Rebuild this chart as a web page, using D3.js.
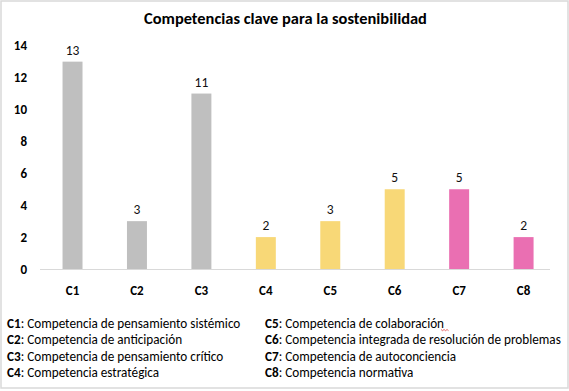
<!DOCTYPE html>
<html>
<head>
<meta charset="utf-8">
<script src="https://cdn.jsdelivr.net/npm/d3@7"></script>
<style>
  html, body { margin: 0; padding: 0; background: #fff; }
  svg { display: block; }
  text { font-family: Carlito, Calibri, Lato, "Open Sans", sans-serif; }
</style>
</head>
<body>
<svg id="chart" width="569" height="391"></svg>
<script>
const title = "Competencias clave para la sostenibilidad";
const categories = ["C1", "C2", "C3", "C4", "C5", "C6", "C7", "C8"];
const values = [13, 3, 11, 2, 3, 5, 5, 2];
const groups = ["g1", "g1", "g1", "g2", "g2", "g2", "g3", "g3"];
const yTicks = [0, 2, 4, 6, 8, 10, 12, 14];
const legendCodes = ["C1", "C2", "C3", "C4", "C5", "C6", "C7", "C8"];
const legendTexts = [
  "Competencia de pensamiento sistémico",
  "Competencia de anticipación",
  "Competencia de pensamiento crítico",
  "Competencia estratégica",
  "Competencia de colaboración",
  "Competencia integrada de resolución de problemas",
  "Competencia de autoconciencia",
  "Competencia normativa"
];

const svg = d3.select("#chart");
const W = 569, H = 391;

// frame
svg.append("rect").attr("x", 1).attr("y", 1).attr("width", W - 2).attr("height", H - 4)
  .attr("fill", "#fff").attr("stroke", "#d9d9d9").attr("stroke-width", 1.5);

const x = d3.scaleBand().domain(categories).range([40.3, 555.8]).paddingInner(0.69).paddingOuter(0.345);
const y = d3.scaleLinear().domain([0, 14]).range([269, 45.7]);
const color = d3.scaleOrdinal().domain(["g1", "g2", "g3"]).range(["#bfbfbf", "#f8d877", "#ea6fb2"]);

function fitText(sel, target, base) {
  sel.attr("font-size", base);
  const w = sel.node().getComputedTextLength();
  sel.attr("font-size", base * target / w);
}

// title
const t = svg.append("text").attr("x", 285.5).attr("y", 23.5).attr("text-anchor", "middle")
  .attr("font-weight", "bold").attr("fill", "#000").text(title);
fitText(t, 283, 15);

// y axis labels
const yAxis = d3.axisLeft(y).tickValues(yTicks).tickSize(0).tickPadding(0);
const gy = svg.append("g").attr("transform", "translate(27,0)").call(yAxis);
gy.select(".domain").remove();
gy.selectAll("text").attr("font-size", 13).attr("font-weight", "bold").attr("fill", "#000")
  .attr("font-family", "Carlito, Calibri, Lato, sans-serif");

// baseline
svg.append("line").attr("x1", 40).attr("x2", 550).attr("y1", y(0) + 0.5).attr("y2", y(0) + 0.5)
  .attr("stroke", "#d9d9d9").attr("stroke-width", 1);

// bars
const idx = categories.map((c, i) => i);
svg.append("g").selectAll("rect").data(idx).join("rect")
  .attr("x", i => x(categories[i]))
  .attr("width", x.bandwidth())
  .attr("y", i => y(values[i]))
  .attr("height", i => y(0) - y(values[i]))
  .attr("fill", i => color(groups[i]));

// value labels
svg.append("g").selectAll("text").data(idx).join("text")
  .attr("x", i => x(categories[i]) + x.bandwidth() / 2)
  .attr("y", i => y(values[i]) - 7)
  .attr("text-anchor", "middle").attr("font-size", 13.5).attr("fill", "#111")
  .text(i => values[i]);

// x axis labels
const xAxis = d3.axisBottom(x).tickSize(0).tickPadding(0);
const gx = svg.append("g").attr("transform", "translate(0,286)").call(xAxis);
gx.select(".domain").remove();
gx.selectAll("text").attr("font-size", 13).attr("font-weight", "bold").attr("fill", "#000")
  .attr("font-family", "Carlito, Calibri, Lato, sans-serif");

// legend
const legendX = [7, 265];
const legendY = [327.5, 344, 360.5, 377];
const lg = svg.append("g");
let legendSize = 12.5;
const legendItems = legendCodes.map((c, i) => ({ c, t: legendTexts[i], col: Math.floor(i / 4), row: i % 4 }));
const items = lg.selectAll("text").data(legendItems).join("text")
  .attr("x", d => legendX[d.col]).attr("y", d => legendY[d.row])
  .attr("fill", "#000");
items.append("tspan").attr("font-weight", "bold").text(d => d.c);
items.append("tspan").text(d => ": " + d.t);
// fit legend font so first item spans ~235px
items.attr("font-size", legendSize);
const w0 = items.nodes()[0].getComputedTextLength();
legendSize = Math.min(13.2, legendSize * 235 / w0);
items.attr("font-size", legendSize);

// spell-check squiggle under "colaboración"
const n5 = items.nodes()[4];
const endX = legendX[1] + n5.getComputedTextLength();
const sq = d3.path();
let sx = endX - 3, sy = legendY[0] + 2;
sq.moveTo(sx, sy);
for (let k = 0; k < 5; k++) { sx += 1.5; sq.lineTo(sx, sy + (k % 2 === 0 ? 1.2 : 0)); }
svg.append("path").attr("d", sq.toString()).attr("fill", "none").attr("stroke", "#e04040").attr("stroke-width", 0.8);
</script>
</body>
</html>
